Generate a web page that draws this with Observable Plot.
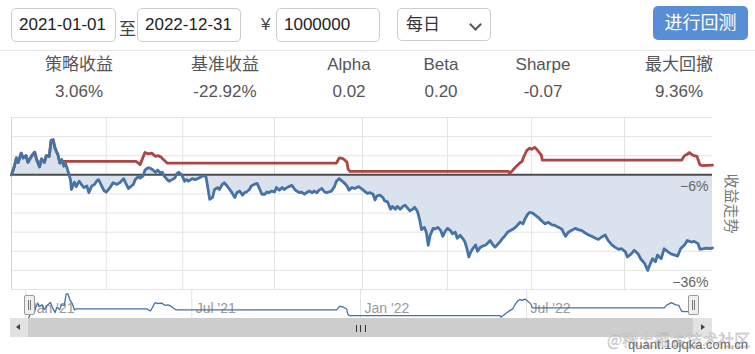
<!DOCTYPE html>
<html><head><meta charset="utf-8">
<script src="https://cdn.jsdelivr.net/npm/d3@7"></script>
<script src="https://cdn.jsdelivr.net/npm/@observablehq/plot@0.6"></script>
<style>
body{margin:0;width:755px;height:354px;position:relative;overflow:hidden;background:#fff;font-family:"Liberation Sans",Arial,"Noto Sans CJK SC",sans-serif;}
.abs{position:absolute}
.box{position:absolute;border:1px solid #ccc;border-radius:5px;box-sizing:border-box;font-size:17px;color:#222;height:34px;line-height:32px;padding-left:7px;top:8px}
.lab{position:absolute;width:140px;text-align:center;font-size:17px;color:#555;line-height:20px}
#sep{position:absolute;left:0;top:50px;width:755px;height:1px;background:#e6e6e6}
#btn{position:absolute;left:653px;top:6px;width:95px;height:34px;background:#588ed6;border-radius:5px;color:#fff;font-size:18px;line-height:34px;text-align:center}
.handle{position:absolute;top:295px;width:9px;height:18px;background:#f0f0f0;border:1px solid #9a9a9a;border-radius:2px}
.handle i{position:absolute;top:4px;width:1px;height:10px;background:#777}
#track{position:absolute;left:10px;top:318px;width:702px;height:19px;background:#cdcdcd}
.sbtn{position:absolute;top:318px;height:19px;background:#e2e2e2}
.grip{position:absolute;top:325px;width:1.4px;height:7px;background:#333}
</style></head>
<body>
<div class="box" style="left:11px;width:105px">2021-01-01</div>
<div class="abs" style="left:119px;top:15px;font-size:17px;color:#444">至</div>
<div class="box" style="left:137px;width:104px">2022-12-31</div>
<div class="abs" style="left:261px;top:15px;font-size:17px;color:#444">¥</div>
<div class="box" style="left:276px;width:104px">1000000</div>
<div class="box" style="left:397px;width:94px;height:33px;padding-left:8px;color:#333">每日
  <span class="abs" style="left:73px;top:11px;width:7px;height:7px;border-right:2px solid #555;border-bottom:2px solid #555;transform:rotate(45deg)"></span></div>
<div id="btn">进行回测</div>
<div id="sep"></div>
<div id="stats"></div>
<div id="main" class="abs" style="left:0;top:112px"></div>
<div id="nav" class="abs" style="left:0;top:289px"></div>
<div id="track"></div>
<div class="sbtn" style="left:10px;width:18px"><span class="abs" style="left:6px;top:6px;width:0;height:0;border-top:3.5px solid transparent;border-bottom:3.5px solid transparent;border-right:4px solid #444"></span></div>
<div class="sbtn" style="left:693px;width:19px"><span class="abs" style="left:8px;top:6px;width:0;height:0;border-top:3.5px solid transparent;border-bottom:3.5px solid transparent;border-left:4px solid #444"></span></div>
<div class="grip" style="left:356px"></div><div class="grip" style="left:360px"></div><div class="grip" style="left:364.5px"></div>
<div class="handle" style="left:24px"><i style="left:3px"></i><i style="left:5px"></i></div>
<div class="handle" style="left:688px"><i style="left:3px"></i><i style="left:5px"></i></div>
<div class="abs" style="left:607px;top:329px;font-size:16px;line-height:20px;white-space:nowrap;color:rgba(220,220,220,0.9);-webkit-text-stroke:0.3px #aaa;font-family:'Noto Sans CJK SC'">@稀土掘金技术社区</div>
<div class="abs" style="left:628px;top:337px;font-size:13px;line-height:16px;color:#6a6a6a">quant.10jqka.com.cn</div>
<script>
// ---- data ----
const statLabels = ["策略收益", "基准收益", "Alpha", "Beta", "Sharpe", "最大回撤"];
const statValues = ["3.06%", "-22.92%", "0.02", "0.20", "-0.07", "9.36%"];

// benchmark cumulative return, %
const benchmark = [
["2021-01-04",0],["2021-01-07",2.7],["2021-01-09",5.3],["2021-01-11",3.9],["2021-01-14",6.8],["2021-01-16",5.3],
["2021-01-19",6.0],["2021-01-21",3.9],["2021-01-23",5.0],["2021-01-25",6.0],["2021-01-28",7.1],["2021-01-30",4.8],
["2021-02-02",2.5],["2021-02-04",5.0],["2021-02-07",3.9],["2021-02-09",6.0],["2021-02-12",5.8],["2021-02-14",10.8],
["2021-02-16",11.0],["2021-02-18",8.4],["2021-02-21",6.3],["2021-02-23",3.7],["2021-02-25",4.8],["2021-02-27",2.7],
["2021-03-01",3.5],["2021-03-03",1.6],["2021-03-06",-1.5],["2021-03-07",-4.6],["2021-03-10",-2.3],["2021-03-12",-3.7],
["2021-03-15",-2.0],["2021-03-18",-3.3],["2021-03-20",-4.0],["2021-03-23",-3.5],["2021-03-25",-5.6],["2021-03-28",-3.5],
["2021-03-31",-3.0],["2021-04-02",-2.0],["2021-04-04",-1.5],["2021-04-07",-3.3],["2021-04-10",-5.1],["2021-04-12",-5.4],
["2021-04-16",-4.0],["2021-04-19",-2.5],["2021-04-23",-3.0],["2021-04-26",-2.5],["2021-04-30",-1.2],["2021-05-02",-2.5],
["2021-05-05",-4.3],["2021-05-08",-3.5],["2021-05-10",-3.0],["2021-05-12",-1.5],["2021-05-15",-0.6],["2021-05-17",-1.0],
["2021-05-20",-0.4],["2021-05-22",1.5],["2021-05-25",2.2],["2021-05-27",2.2],["2021-05-30",1.6],["2021-06-02",0.8],
["2021-06-04",1.5],["2021-06-07",0.6],["2021-06-09",0.8],["2021-06-11",-0.4],["2021-06-14",-1.5],["2021-06-16",-2.0],
["2021-06-19",-1.5],["2021-06-22",-1.0],["2021-06-24",0.4],["2021-06-26",0.8],["2021-06-29",0.0],["2021-07-02",-2.0],
["2021-07-04",-1.5],["2021-07-06",-2.0],["2021-07-10",-1.2],["2021-07-13",-1.5],["2021-07-17",-1.0],["2021-07-20",-0.4],
["2021-07-24",-0.4],["2021-07-26",-4.0],["2021-07-28",-7.7],["2021-07-31",-7.1],["2021-08-02",-4.6],["2021-08-05",-4.0],
["2021-08-07",-4.6],["2021-08-10",-3.0],["2021-08-12",-2.5],["2021-08-15",-3.5],["2021-08-17",-4.3],["2021-08-20",-5.6],
["2021-08-23",-7.1],["2021-08-25",-5.6],["2021-08-28",-5.1],["2021-08-31",-6.4],["2021-09-02",-5.6],["2021-09-04",-5.4],
["2021-09-07",-4.6],["2021-09-09",-3.5],["2021-09-12",-3.0],["2021-09-15",-2.7],["2021-09-17",-4.0],["2021-09-20",-6.1],
["2021-09-23",-6.1],["2021-09-25",-5.4],["2021-09-27",-5.6],["2021-09-30",-5.1],["2021-10-03",-5.4],["2021-10-05",-4.0],
["2021-10-08",-4.8],["2021-10-11",-4.0],["2021-10-13",-4.6],["2021-10-16",-4.0],["2021-10-18",-3.7],["2021-10-21",-3.3],
["2021-10-24",-4.6],["2021-10-26",-5.1],["2021-10-29",-5.6],["2021-10-31",-5.4],["2021-11-03",-6.1],["2021-11-05",-5.6],
["2021-11-08",-5.1],["2021-11-11",-5.6],["2021-11-13",-5.1],["2021-11-16",-5.6],["2021-11-18",-4.8],["2021-11-21",-4.3],
["2021-11-24",-5.4],["2021-11-26",-5.6],["2021-11-28",-5.4],["2021-12-01",-5.1],["2021-12-04",-3.7],["2021-12-06",-2.0],
["2021-12-09",-1.2],["2021-12-12",-2.0],["2021-12-14",-2.5],["2021-12-17",-3.5],["2021-12-19",-4.8],["2021-12-22",-4.0],
["2021-12-25",-4.3],["2021-12-29",-3.7],["2022-01-02",-4.6],["2022-01-04",-5.1],["2022-01-07",-5.8],["2022-01-10",-5.6],
["2022-01-13",-6.1],["2022-01-15",-7.9],["2022-01-17",-6.6],["2022-01-20",-6.4],["2022-01-23",-7.1],["2022-01-25",-8.2],
["2022-01-28",-8.5],["2022-01-31",-10.8],["2022-02-02",-9.9],["2022-02-05",-10.8],["2022-02-07",-9.9],["2022-02-10",-10.8],
["2022-02-13",-9.9],["2022-02-15",-9.5],["2022-02-17",-10.2],["2022-02-20",-11.3],["2022-02-23",-10.8],["2022-02-25",-10.2],
["2022-02-28",-11.6],["2022-03-02",-13.9],["2022-03-04",-17.2],["2022-03-07",-16.5],["2022-03-09",-18.0],["2022-03-11",-22.1],
["2022-03-13",-19.0],["2022-03-16",-16.8],["2022-03-18",-17.0],["2022-03-21",-16.5],["2022-03-24",-17.5],["2022-03-26",-19.3],
["2022-03-29",-17.5],["2022-03-31",-16.8],["2022-04-03",-17.5],["2022-04-05",-18.5],["2022-04-08",-18.0],["2022-04-10",-19.9],
["2022-04-13",-19.0],["2022-04-16",-20.1],["2022-04-18",-21.1],["2022-04-20",-23.2],["2022-04-22",-25.8],["2022-04-24",-24.2],
["2022-04-26",-23.2],["2022-04-29",-22.0],["2022-05-01",-24.0],["2022-05-04",-22.7],["2022-05-06",-22.4],["2022-05-09",-22.1],
["2022-05-11",-21.6],["2022-05-14",-20.6],["2022-05-17",-22.0],["2022-05-19",-22.7],["2022-05-21",-22.1],["2022-05-24",-21.1],
["2022-05-27",-19.9],["2022-05-29",-19.3],["2022-06-01",-18.0],["2022-06-04",-17.5],["2022-06-06",-17.2],["2022-06-09",-16.5],
["2022-06-11",-15.9],["2022-06-14",-14.9],["2022-06-17",-15.4],["2022-06-19",-13.9],["2022-06-22",-12.3],["2022-06-24",-11.8],
["2022-06-27",-12.0],["2022-06-29",-12.5],["2022-07-03",-13.4],["2022-07-06",-14.4],["2022-07-10",-15.4],["2022-07-13",-14.9],
["2022-07-17",-15.7],["2022-07-20",-15.9],["2022-07-24",-16.5],["2022-07-27",-17.0],["2022-07-31",-19.3],["2022-08-03",-18.0],
["2022-08-06",-17.5],["2022-08-10",-16.8],["2022-08-13",-17.2],["2022-08-17",-17.5],["2022-08-20",-18.2],["2022-08-24",-18.9],
["2022-08-27",-19.3],["2022-08-31",-19.9],["2022-09-03",-20.3],["2022-09-06",-19.6],["2022-09-10",-18.9],["2022-09-13",-20.6],
["2022-09-17",-22.0],["2022-09-20",-22.7],["2022-09-24",-23.4],["2022-09-27",-23.2],["2022-10-01",-24.2],["2022-10-03",-25.8],
["2022-10-07",-24.8],["2022-10-10",-23.7],["2022-10-14",-24.8],["2022-10-17",-26.5],["2022-10-21",-27.9],["2022-10-24",-30.0],
["2022-10-26",-28.4],["2022-10-29",-26.3],["2022-11-01",-27.3],["2022-11-03",-25.2],["2022-11-07",-26.3],["2022-11-10",-23.2],
["2022-11-14",-24.2],["2022-11-17",-24.8],["2022-11-21",-25.2],["2022-11-24",-25.5],["2022-11-27",-23.2],["2022-12-01",-22.0],
["2022-12-04",-20.6],["2022-12-08",-21.1],["2022-12-11",-20.9],["2022-12-15",-21.6],["2022-12-17",-23.4],["2022-12-21",-23.2],
["2022-12-24",-23.0],["2022-12-28",-23.2],["2022-12-30",-22.92]
];

// strategy cumulative return, %
const strategy = [
["2021-01-04",0],["2021-01-07",2.7],["2021-01-09",5.3],["2021-01-11",3.9],["2021-01-14",6.8],["2021-01-16",5.3],
["2021-01-19",6.0],["2021-01-21",3.9],["2021-01-23",5.0],["2021-01-25",6.0],["2021-01-28",7.1],["2021-01-30",4.8],
["2021-02-02",2.5],["2021-02-04",5.0],["2021-02-07",3.9],["2021-02-09",6.0],["2021-02-12",5.8],["2021-02-14",10.8],
["2021-02-16",11.0],["2021-02-18",8.4],["2021-02-21",6.3],["2021-02-23",3.7],["2021-02-25",4.2],["2021-05-13",4.2],
["2021-05-17",3.2],["2021-05-22",7.0],["2021-05-25",6.6],["2021-05-29",6.8],["2021-06-02",5.8],["2021-06-05",6.0],
["2021-06-08",5.5],["2021-06-10",4.8],["2021-06-14",3.7],["2021-12-06",3.7],["2021-12-09",5.3],["2021-12-12",5.2],
["2021-12-14",4.8],["2021-12-17",4.0],["2021-12-18",1.9],["2021-12-20",1.1],["2022-06-02",1.1],["2022-06-03",0.4],
["2022-06-06",1.3],["2022-06-08",2.0],["2022-06-11",2.9],["2022-06-13",3.5],["2022-06-16",4.2],["2022-06-18",5.8],
["2022-06-21",7.7],["2022-06-24",8.4],["2022-06-26",8.0],["2022-06-29",8.6],["2022-07-01",8.1],["2022-07-04",7.0],
["2022-07-06",6.2],["2022-07-07",4.6],["2022-11-28",4.6],["2022-12-01",6.0],["2022-12-03",6.3],["2022-12-06",7.0],
["2022-12-09",6.3],["2022-12-11",6.0],["2022-12-14",5.8],["2022-12-15",4.8],["2022-12-17",3.2],["2022-12-19",2.9],
["2022-12-30",3.06]
];

const yTicks = [-36, -30, -24, -18, -12, -6, 0, 6, 12, 18];
const yLabelTicks = [-6, -36];
const gridDates = ["2021-04-12","2021-06-30","2021-10-03","2022-01-02","2022-03-31","2022-06-26","2022-09-30"];
const navTicks = ["2021-01-01","2021-07-01","2022-01-01","2022-07-01"];
const axisTitle = "收益走势";

// ---- build ----
const parse = d3.utcParse("%Y-%m-%d");
const bench = benchmark.map(([d, v]) => ({date: parse(d), value: v}));
const strat = strategy.map(([d, v]) => ({date: parse(d), value: v}));
const xDomain = [bench[0].date, bench[bench.length - 1].date];

const stats = document.getElementById("stats");
const centers = [79, 225, 349, 441, 543, 679];
statLabels.forEach((t, i) => {
  const a = document.createElement("div"); a.className = "lab";
  a.style.left = (centers[i] - 70) + "px"; a.style.top = "55px"; a.textContent = t; stats.appendChild(a);
  const b = document.createElement("div"); b.className = "lab";
  b.style.left = (centers[i] - 70) + "px"; b.style.top = "82px"; b.textContent = statValues[i]; stats.appendChild(b);
});

const font = '"Liberation Sans", Arial, "Noto Sans CJK SC", sans-serif';
const main = Plot.plot({
  width: 755, height: 180,
  marginLeft: 11, marginRight: 43, marginTop: 5, marginBottom: 3,
  x: {type: "utc", domain: xDomain, axis: null},
  y: {domain: [d3.min(yTicks), d3.max(yTicks)], axis: null},
  style: {fontFamily: font, background: "transparent", overflow: "visible"},
  marks: [
    Plot.ruleY(yTicks, {stroke: "#e3e3e3", strokeWidth: 1}),
    Plot.ruleX(gridDates.map(parse), {stroke: "#e3e3e3", strokeWidth: 1}),
    Plot.ruleX([xDomain[0]], {stroke: "#d6d6d6", strokeWidth: 1}),
    Plot.areaY(bench, {x: "date", y: "value", fill: "#d9e2ed"}),
    Plot.ruleY([0], {stroke: "#4d4d4d", strokeWidth: 2}),
    Plot.lineY(strat, {x: "date", y: "value", stroke: "#aa4643", strokeWidth: 2.8}),
    Plot.lineY(bench, {x: "date", y: "value", stroke: "#4572a7", strokeWidth: 2.8}),
    Plot.text(yLabelTicks, {y: d => d, text: d => (d < 0 ? "\u2212" : "") + Math.abs(d) + "%", frameAnchor: "right", textAnchor: "end", dx: -4, dy: -7, fill: "#666", fontSize: 14}),
    Plot.text([axisTitle], {frameAnchor: "right", textAnchor: "middle", rotate: 90, dx: 18, fill: "#777", fontSize: 15, fontFamily: '"Noto Sans CJK SC", sans-serif'})
  ]
});
document.getElementById("main").appendChild(main);

const fmt = d3.utcFormat("%b '%y");
const nav = Plot.plot({
  width: 755, height: 30,
  marginLeft: 28, marginRight: 62, marginTop: 1, marginBottom: 1,
  x: {type: "utc", domain: xDomain, axis: null},
  y: {axis: null, insetTop: 3.3, insetBottom: 0.4},
  style: {fontFamily: font, background: "transparent", overflow: "visible"},
  marks: [
    Plot.ruleX(navTicks.map(parse), {stroke: "#e3e3e3", strokeWidth: 1}),
    Plot.text(navTicks.map(parse), {x: d => d, text: d => fmt(d), frameAnchor: "middle", textAnchor: "start", dx: 4, dy: 4, fill: "#9a9a9a", fontSize: 14}),
    Plot.lineY(strat, {x: "date", y: "value", stroke: "#4572a7", strokeWidth: 1.3})
  ]
});
document.getElementById("nav").appendChild(nav);
</script>
</body></html>
